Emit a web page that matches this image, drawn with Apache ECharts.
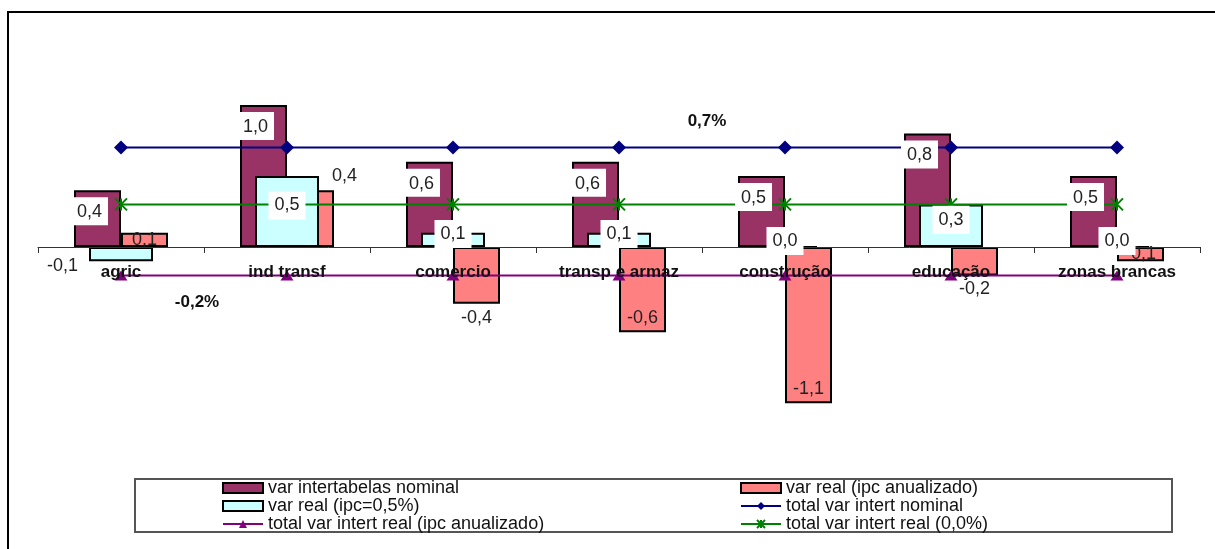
<!DOCTYPE html>
<html>
<head>
<meta charset="utf-8">
<script src="https://cdn.jsdelivr.net/npm/echarts@6/dist/echarts.min.js"></script>
<style>
html,body{margin:0;padding:0;background:#fff;}
#chart{width:1215px;height:549px;}
</style>
</head>
<body>
<div id="chart"></div>
<script>
const categories = ['agric', 'ind transf', 'comercio', 'transp e armaz', 'construção', 'educação', 'zonas brancas'];
const varIntertabelasNominal = [0.4, 1.0, 0.6, 0.6, 0.5, 0.8, 0.5];
const varRealIpcAnualizado = [0.1, 0.4, -0.4, -0.6, -1.1, -0.2, -0.1];
const varRealIpc05 = [-0.1, 0.5, 0.1, 0.1, 0.0, 0.3, 0.0];
const totalVarIntertNominal = [0.7, 0.7, 0.7, 0.7, 0.7, 0.7, 0.7];
const totalVarIntertRealIpcAnual = [-0.2, -0.2, -0.2, -0.2, -0.2, -0.2, -0.2];
const totalVarIntertReal00 = [0.3, 0.3, 0.3, 0.3, 0.3, 0.3, 0.3];

const N1 = 'var intertabelas nominal';
const N2 = 'var real (ipc anualizado)';
const N3 = 'var real (ipc=0,5%)';
const N4 = 'total var intert nominal';
const N5 = 'total var intert real (ipc anualizado)';
const N6 = 'total var intert real (0,0%)';

const Y_MIN = -1.4, Y_MAX = 1.4;
const GRID_TOP = 48.2, GRID_H = 397.6;
// distance from the bottom of the grid up to the zero line
const ZERO_OFFSET = GRID_H * (0 - Y_MIN) / (Y_MAX - Y_MIN);

const fmt = v => (typeof v === 'object' ? v.value : v).toFixed(1).replace('.', ',');
const fmtP = p => fmt(p.value);
const labelFont = {fontFamily: 'Liberation Sans, Arial, sans-serif', fontSize: 18, color: '#222'};

const chart = echarts.init(document.getElementById('chart'));

const catAxis = (show, z) => ({
  type: 'category', data: categories, gridIndex: 0, show: show, z: z,
  position: 'bottom', offset: show ? -ZERO_OFFSET : 0,
  axisLine: {show: show, onZero: false, lineStyle: {color: '#333', width: 1}},
  axisTick: {show: show, interval: 0, length: 6, lineStyle: {color: '#333'}},
  axisLabel: {show: show, interval: 0, margin: 17, fontFamily: 'Liberation Sans, Arial, sans-serif',
    fontSize: 17, fontWeight: 'bold', color: '#111'},
  splitLine: {show: false}
});

const salmonData = varRealIpcAnualizado.map(v => {
  let pos, off = [0, 0];
  if (Math.abs(v) < 0.15) pos = 'inside';
  else if (v > 0) { pos = 'top'; off = [34, 0]; }
  else if (v <= -0.5) pos = 'insideBottom';
  else pos = 'bottom';
  return {value: v, label: {position: pos, offset: off}};
});

const cyanLabelData = varRealIpc05.map(v => v < 0
  ? {value: v, label: {position: 'left', offset: [0, 12]}}
  : {value: v, label: {position: 'inside', offset: [0, -6]}});

const boldAnn = {fontFamily: 'Liberation Sans, Arial, sans-serif', fontSize: 17, fontWeight: 'bold', color: '#111'};
const nominalData = totalVarIntertNominal.map((v, i) => i === 3 ? {
  value: v, label: Object.assign({show: true, position: 'top', offset: [88, -6], formatter: '0,7%'}, boldAnn)
} : v);
const realIpcData = totalVarIntertRealIpcAnual.map((v, i) => i === 0 ? {
  value: v, label: Object.assign({show: true, position: 'bottom', offset: [76, 8], formatter: '-0,2%'}, boldAnn)
} : v);

const legendText = {fontFamily: 'Liberation Sans, Arial, sans-serif', fontSize: 18, color: '#111', lineHeight: 16};

const option = {
  animation: false,
  backgroundColor: '#fff',
  grid: {left: 38, right: 15, top: GRID_TOP, height: GRID_H, containLabel: false},
  xAxis: [catAxis(true, 5), catAxis(false, 0), catAxis(false, 0), catAxis(false, 0)],
  yAxis: {type: 'value', min: Y_MIN, max: Y_MAX, show: false, splitLine: {show: false}},
  legend: [
    {left: 222, top: 479, padding: 0, orient: 'vertical', itemGap: 0, itemWidth: 40, itemHeight: 10,
      textStyle: legendText, selectedMode: false,
      data: [{name: N1, icon: 'rect'}, {name: N3, icon: 'rect'}, N5]},
    {left: 740, top: 479, padding: 0, orient: 'vertical', itemGap: 0, itemWidth: 40, itemHeight: 10,
      textStyle: legendText, selectedMode: false,
      data: [{name: N2, icon: 'rect'}, N4, N6]}
  ],
  graphic: [
    {type: 'rect', shape: {x: 8, y: 12, width: 1230, height: 560}, style: {fill: 'none', stroke: '#000', lineWidth: 2}, silent: true},
    {type: 'rect', shape: {x: 135, y: 479, width: 1037, height: 53}, style: {fill: 'none', stroke: '#555', lineWidth: 2}, silent: true}
  ],
  series: [
    {name: N1, type: 'bar', xAxisIndex: 0, data: varIntertabelasNominal, barWidth: 47, barGap: '0%', z: 2,
      itemStyle: {color: '#993366', borderColor: '#000', borderWidth: 2}},
    {name: N2, type: 'bar', xAxisIndex: 0, data: salmonData, barWidth: 47, barGap: '0%', z: 2,
      itemStyle: {color: '#FF8080', borderColor: '#000', borderWidth: 2},
      label: Object.assign({show: true, formatter: fmtP, distance: 5}, labelFont)},
    {name: N3, type: 'bar', xAxisIndex: 1, data: varRealIpc05, barWidth: 64, z: 2,
      itemStyle: {color: '#CCFFFF', borderColor: '#000', borderWidth: 2}},
    {name: N4, type: 'line', xAxisIndex: 0, data: nominalData, z: 3,
      symbol: 'diamond', symbolSize: 14,
      lineStyle: {color: '#000080', width: 2}, itemStyle: {color: '#000080'}},
    {name: N5, type: 'line', xAxisIndex: 0, data: realIpcData, z: 3,
      symbol: 'triangle', symbolSize: [13, 10],
      lineStyle: {color: '#800080', width: 2}, itemStyle: {color: '#800080'}},
    {name: N6, type: 'line', xAxisIndex: 0, data: totalVarIntertReal00, z: 3,
      symbol: 'path://M0,0 L10,10 M10,0 L0,10 M5,0 L5,10', symbolSize: 12,
      lineStyle: {color: '#008000', width: 2}, itemStyle: {color: '#008000', borderColor: '#008000', borderWidth: 2}},
    // label layers (drawn above the lines, like the boxed data labels of the original)
    {name: 'lbl1', type: 'bar', xAxisIndex: 2, data: varIntertabelasNominal, barWidth: 47, barGap: '0%', z: 6, silent: true,
      itemStyle: {color: 'rgba(0,0,0,0)', borderWidth: 0},
      label: Object.assign({show: true, position: 'insideTop', offset: [-8, 2], formatter: fmtP,
        backgroundColor: '#fff', padding: [6, 6, 4, 6]}, labelFont)},
    {name: 'lbl2', type: 'bar', xAxisIndex: 2, data: varRealIpcAnualizado, barWidth: 47, barGap: '0%', z: 6, silent: true,
      itemStyle: {color: 'rgba(0,0,0,0)', borderWidth: 0}},
    {name: 'lbl3', type: 'bar', xAxisIndex: 3, data: cyanLabelData, barWidth: 64, z: 6, silent: true,
      itemStyle: {color: 'rgba(0,0,0,0)', borderWidth: 0},
      label: Object.assign({show: true, formatter: fmtP,
        backgroundColor: '#fff', padding: [6, 6, 4, 6]}, labelFont)}
  ]
};
chart.setOption(option);
</script>
</body>
</html>
